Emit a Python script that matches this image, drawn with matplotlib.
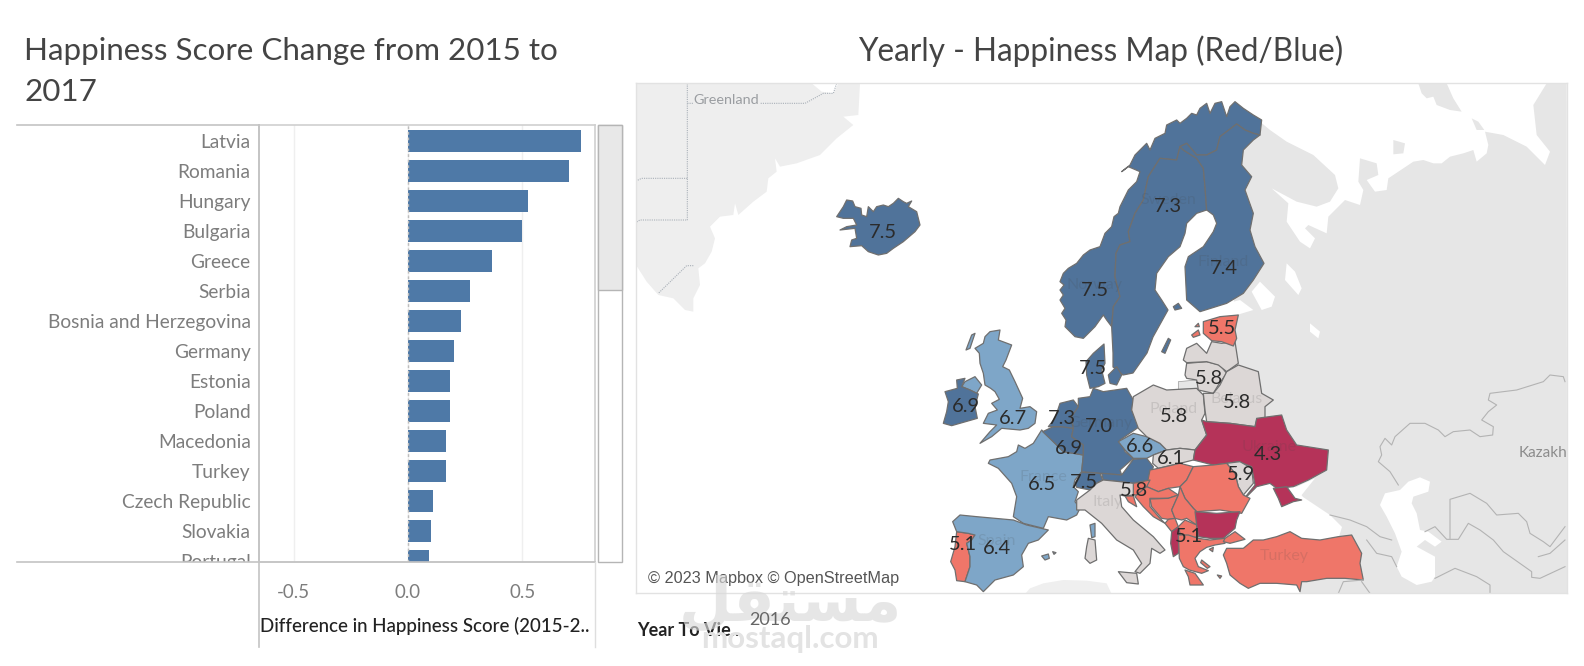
import matplotlib
matplotlib.use("Agg")
import matplotlib.pyplot as plt
from matplotlib.patches import Polygon, Rectangle
from matplotlib.transforms import Bbox
import numpy as np

W, H = 1584, 666

# bar chart values
bar_countries = ["Latvia", "Romania", "Hungary", "Bulgaria", "Greece", "Serbia", "Bosnia and Herzegovina",
                 "Germany", "Estonia", "Poland", "Macedonia", "Turkey", "Czech Republic", "Slovakia", "Portugal"]
bar_diffs = [0.757, 0.703, 0.527, 0.50, 0.368, 0.271, 0.232, 0.20, 0.183, 0.183, 0.165, 0.165, 0.108, 0.10, 0.094]
bar_ticks = [-0.5, 0.0, 0.5]

# outline sheets, origin of each sheet in map pixels (outlines are stored at 3 units per pixel)
GREEN = (630, 75)
NORD = (1040, 100)
RUS = (1220, 75)
CENT = (920, 310)
ASIA = (1330, 340)
IBER = (930, 460)
BALK = (1130, 460)

greenland = [(18, 25), (545, 25), (575, 50), (610, 55), (625, 25), (690, 25), (685, 120), (640, 125), (670, 150),
             (620, 190), (570, 240), (500, 265), (450, 275), (435, 250), (440, 290), (415, 310), (410, 350),
             (370, 380), (325, 420), (315, 385), (310, 420), (270, 425), (240, 455), (255, 490), (245, 530),
             (225, 565), (205, 580), (210, 630), (190, 670), (190, 710), (165, 705), (130, 670), (85, 660),
             (50, 620), (18, 570)]
greenland_borders = [[(172, 25), (172, 435), (30, 435), (18, 442)],
                     [(172, 310), (35, 310), (18, 318)],
                     [(172, 85), (525, 85), (580, 55), (610, 55), (620, 25)],
                     [(190, 572), (170, 572), (85, 655)]]

eurasia_coast = [(85, 130), (120, 140), (150, 165), (200, 200), (280, 240), (345, 300), (355, 340), (330, 380),
                 (290, 395), (230, 380), (155, 340), (205, 385), (200, 440), (240, 500), (270, 520), (285, 490),
                 (255, 460), (265, 450), (320, 475), (325, 425), (375, 375), (420, 390), (430, 345), (415, 320),
                 (420, 250), (470, 265), (475, 300), (440, 315), (465, 350), (500, 345), (505, 310), (580, 260),
                 (610, 255), (640, 265), (665, 265), (690, 245), (730, 235), (760, 225), (770, 260), (800, 235),
                 (805, 210), (795, 170), (850, 180), (920, 215), (975, 270), (990, 230), (950, 180), (940, 90),
                 (980, 25), (1040, 25)]
eurasia_inland = [(1567, 593), (1300, 593), (1300, 575), (1338, 540), (1342, 527), (1330, 515), (1303, 497),
                  (1290, 480), (1270, 440), (1240, 400), (1232, 335), (1232, 320), (1235, 290), (1235, 158)]
novaya_zemlya = [(595, 25), (680, 25), (700, 70), (725, 110), (690, 105), (650, 90), (640, 65), (620, 70), (605, 55)]
kolguev = [(520, 195), (555, 205), (550, 235), (520, 238)]
vaygach = [(755, 130), (775, 140), (793, 165), (770, 165)]
gulf_finland = [(0, 690), (60, 675), (100, 705), (50, 720), (0, 725)]
ladoga = [(95, 650), (120, 620), (165, 665), (155, 695), (125, 705)]
onega = [(200, 565), (225, 590), (245, 640), (235, 660), (195, 615)]
ilmen = [(270, 745), (300, 770), (295, 790), (270, 770)]
caspian = [(235, 425), (270, 412), (300, 425), (295, 455), (250, 470), (245, 490), (260, 520), (270, 570), (295, 575),
           (335, 605), (315, 620), (285, 600), (260, 620), (315, 650), (315, 710), (305, 725), (260, 735), (215, 710),
           (200, 680), (215, 635), (195, 580), (170, 530), (150, 495), (165, 460), (210, 450)]
azov = [(490, 85), (555, 55), (515, 105), (500, 110)]
africa = [(285, 402), (300, 385), (340, 370), (400, 360), (470, 362), (530, 370), (545, 402)]
asia_borders = [[(705, 125), (700, 110), (660, 105), (640, 125), (560, 150), (480, 160), (475, 180), (500, 195),
                 (475, 215), (455, 240), (490, 260), (488, 285), (450, 290), (420, 270), (370, 275), (345, 290),
                 (325, 270), (285, 250), (240, 250), (195, 290), (185, 315), (165, 295), (150, 320), (155, 345),
                 (145, 365), (180, 395), (205, 435)],
                [(360, 595), (360, 478), (420, 460), (470, 490), (500, 525), (565, 520), (590, 545), (600, 580),
                 (640, 605), (660, 620), (705, 560)],
                [(285, 575), (315, 560), (350, 598), (385, 598), (415, 550), (450, 570), (490, 600), (520, 635),
                 (605, 695), (605, 712), (630, 715), (705, 680)],
                [(315, 715), (375, 685), (440, 710), (480, 735), (480, 760)],
                [(0, 525), (60, 540), (110, 560), (150, 590), (185, 600)],
                [(110, 600), (140, 640), (185, 650), (200, 680)],
                [(95, 725), (120, 760)],
                [(625, 650), (660, 640), (705, 600)],
                [(25, 760), (40, 725), (100, 720)]]

iceland = [(620, 425), (640, 395), (650, 375), (668, 378), (675, 395), (693, 400), (695, 420), (710, 425), (715, 395),
           (730, 410), (740, 395), (760, 390), (775, 395), (790, 385), (805, 370), (820, 380), (830, 385), (845, 378),
           (835, 395), (860, 410), (870, 450), (855, 470), (820, 500), (790, 520), (770, 535), (745, 540), (715, 530),
           (695, 512), (660, 515), (665, 495), (680, 490), (675, 460), (630, 465), (650, 455), (680, 450), (670, 430),
           (640, 430)]

# shared Scandinavian borders
se_no_border = [(215, 680), (220, 620), (240, 590), (225, 530), (228, 460), (240, 435), (270, 425), (265, 395),
                (285, 340), (310, 300), (325, 230), (360, 175), (410, 180), (420, 140)]
fi_no_border = [(420, 140), (440, 130), (470, 165), (500, 165), (530, 150), (540, 110), (590, 72), (615, 90),
                (640, 100), (660, 105)]
fi_se_border = [(420, 140), (430, 150), (470, 175), (490, 205), (495, 260), (500, 330)]
norway_coast = [(660, 105), (665, 60), (640, 45), (610, 25), (585, 5), (570, 20), (560, 50), (545, 5), (525, 10),
                (510, 40), (500, 10), (480, 25), (470, 45), (455, 40), (440, 55), (420, 70), (410, 60), (380, 75),
                (375, 100), (345, 115), (330, 150), (320, 130), (300, 150), (285, 165), (270, 195), (245, 215),
                (265, 200), (300, 215), (290, 245), (265, 270), (250, 300), (240, 320), (235, 340), (222, 350),
                (215, 380), (195, 400), (180, 440), (150, 450), (130, 465), (110, 490), (85, 505), (70, 520), (60, 545),
                (72, 555), (60, 570), (70, 585), (60, 600), (75, 625), (65, 640), (78, 660), (75, 680), (105, 710),
                (130, 715), (165, 680), (190, 645), (200, 660)]
norway = norway_coast + se_no_border + fi_no_border[1:]
sweden = se_no_border[::-1] + [(219, 759), (219, 801), (249, 825), (279, 819), (321, 759), (339, 711), (384, 630),
                               (365, 600), (345, 570), (350, 520), (385, 470), (420, 440), (435, 400), (440, 370),
                               (470, 340)] + fi_se_border[::-1]
finland = fi_no_border + [(640, 120), (610, 150), (605, 195), (635, 230), (615, 270), (640, 340), (630, 390),
                          (645, 440), (672, 490), (640, 540), (610, 580), (560, 610), (480, 635), (440, 600),
                          (435, 500), (445, 470), (490, 440), (520, 395), (530, 370), (520, 345)] + fi_se_border[::-1]
aland = [(400, 620), (415, 610), (425, 625), (405, 630)]
gotland = [(725, 125), (745, 85), (752, 90), (735, 130)]

uk = [(210, 65), (240, 60), (235, 90), (275, 105), (258, 150), (248, 170), (268, 180), (285, 215), (308, 265),
      (300, 295), (330, 290), (350, 305), (345, 340), (325, 355), (300, 360), (245, 355), (215, 380), (180, 400),
      (210, 365), (230, 345), (190, 340), (205, 310), (232, 300), (215, 280), (238, 268), (225, 245), (212, 235),
      (195, 225), (190, 190), (180, 160), (178, 130), (165, 115), (190, 100), (195, 80)]
hebrides = [(138, 120), (155, 75), (165, 70), (150, 115)]
n_ireland = [(135, 215), (165, 200), (185, 225), (170, 250), (150, 240), (125, 230)]
ireland = [(75, 245), (112, 235), (110, 210), (135, 205), (125, 230), (150, 240), (175, 252), (165, 290), (172, 325),
           (130, 337), (95, 347), (70, 340), (80, 305), (85, 275)]
france = [(365, 360), (405, 400), (430, 425), (490, 435), (485, 485), (465, 510), (460, 530), (475, 545), (465, 575),
          (480, 595), (470, 615), (440, 630), (385, 620), (370, 655), (310, 640), (280, 620), (290, 560), (275, 520),
          (235, 475), (205, 460), (210, 450), (265, 440), (290, 425), (295, 405), (315, 415), (340, 400)]
corsica = [(510, 645), (525, 640), (525, 680), (515, 683)]
belgium = [(368, 365), (400, 350), (430, 350), (460, 355), (455, 380), (490, 405), (490, 435), (430, 425), (405, 400)]
netherlands = [(385, 350), (405, 325), (420, 280), (460, 270), (475, 290), (455, 320), (460, 355), (425, 350)]
germany = [(475, 265), (510, 260), (520, 235), (550, 245), (585, 240), (620, 235), (640, 270), (635, 300), (658, 350),
           (600, 390), (615, 425), (640, 445), (600, 480), (605, 495), (540, 490), (485, 485), (490, 435), (490, 405),
           (455, 380), (460, 355), (455, 320), (475, 290)]
denmark = [(552, 102), (555, 160), (545, 180), (555, 220), (535, 230), (510, 235), (500, 195), (498, 155), (520, 130)]
zealand = [(565, 195), (590, 170), (605, 195), (590, 225), (570, 220)]
switzerland = [(465, 520), (485, 487), (540, 490), (548, 510), (530, 520), (510, 540), (470, 532)]
austria = [(545, 490), (605, 495), (640, 448), (680, 445), (700, 470), (690, 510), (640, 520), (600, 515), (550, 510)]
czechia = [(595, 395), (640, 370), (680, 380), (720, 400), (740, 420), (700, 435), (680, 445), (640, 445), (615, 420)]
poland = [(640, 260), (700, 225), (740, 240), (830, 235), (850, 255), (855, 310), (845, 330), (860, 375), (825, 420),
          (780, 415), (740, 420), (720, 400), (680, 380), (655, 355), (635, 300)]
kaliningrad = [(775, 215), (830, 210), (835, 236), (775, 238)]
slovakia = [(700, 435), (740, 420), (780, 415), (825, 420), (820, 450), (780, 460), (715, 475), (698, 460)]
lithuania = [(795, 195), (800, 160), (860, 155), (900, 165), (920, 190), (895, 225), (880, 250), (835, 240), (830, 210),
             (800, 205)]
latvia = [(790, 150), (800, 115), (830, 100), (860, 130), (875, 95), (905, 100), (945, 95), (955, 160), (920, 185),
          (895, 165), (860, 155), (800, 158)]
estonia = [(850, 35), (900, 20), (955, 15), (945, 60), (950, 85), (940, 108), (905, 95), (875, 92), (850, 70)]
saaremaa = [(815, 75), (835, 60), (840, 75), (820, 82)]
hiiumaa = [(825, 50), (835, 40), (838, 50)]
belarus = [(880, 250), (900, 225), (920, 185), (955, 165), (1015, 185), (1025, 250), (1060, 270), (1035, 290),
           (1035, 325), (1010, 330), (1005, 350), (930, 340), (860, 335), (855, 300), (850, 250)]
ukraine = [(860, 335), (930, 340), (1005, 350), (1010, 325), (1085, 315), (1100, 360), (1130, 405), (1225, 420),
           (1220, 480), (1165, 510), (1120, 530), (1070, 535), (1050, 520), (1010, 530), (965, 575), (1005, 525),
           (995, 470), (955, 455), (920, 460), (880, 465), (820, 450), (825, 420), (860, 375), (845, 330)]
crimea = [(1060, 535), (1100, 530), (1125, 565), (1145, 570), (1120, 575), (1085, 590), (1075, 565)]
moldova = [(920, 460), (960, 455), (995, 475), (1000, 520), (970, 555), (955, 530), (945, 490)]
hungary = [(690, 480), (715, 475), (780, 460), (820, 470), (800, 510), (780, 530), (745, 535), (715, 545), (680, 530)]
romania = [(820, 470), (880, 465), (920, 460), (945, 490), (955, 530), (970, 555), (990, 565), (965, 610), (900, 600),
           (830, 605), (820, 595), (795, 565), (780, 530), (800, 510)]
slovenia = [(640, 520), (690, 510), (680, 530), (650, 555), (640, 555)]
istria = [(615, 558), (640, 558), (650, 590), (625, 575)]
croatia = [(650, 555), (680, 530), (715, 545), (745, 535), (775, 555), (745, 565), (690, 565), (690, 590), (720, 625),
           (735, 640), (700, 620), (670, 590), (645, 560)]
bosnia = [(690, 567), (745, 565), (775, 555), (755, 600), (765, 625), (745, 628), (725, 625), (695, 590)]
serbia = [(780, 530), (795, 565), (820, 595), (830, 605), (830, 645), (815, 635), (800, 625), (785, 630), (765, 625),
          (755, 600), (775, 555)]
montenegro = [(735, 640), (745, 628), (765, 625), (775, 650), (755, 665)]
albania = [(755, 665), (775, 650), (785, 690), (775, 730), (760, 740), (752, 700)]
macedonia = [(775, 650), (795, 630), (830, 645), (835, 680), (785, 690)]
bulgaria = [(825, 605), (890, 610), (960, 605), (950, 630), (945, 655), (910, 685), (870, 685), (835, 680), (830, 645)]
greece = [(145, 225), (175, 225), (205, 235), (240, 240), (285, 235), (285, 250), (255, 255), (230, 262), (210, 275),
          (195, 295), (205, 320), (235, 332), (215, 340), (178, 330), (160, 320), (148, 295)]
peloponnese = [(165, 330), (195, 340), (220, 375), (200, 375), (180, 375), (175, 350)]
lesbos = [(238, 268), (250, 262), (248, 275)]
evia = [(215, 300), (240, 320), (232, 325), (212, 308)]
crete_bit = [(262, 345), (275, 348), (270, 355)]
turkey_thrace = [(285, 235), (315, 215), (345, 238), (300, 250), (280, 245)]
turkey = [(290, 265), (340, 265), (370, 240), (400, 240), (440, 230), (480, 215), (515, 235), (570, 240), (625, 230),
          (665, 225), (695, 280), (690, 310), (700, 360), (645, 355), (590, 355), (530, 365), (515, 365), (510, 395),
          (500, 375), (440, 370), (390, 370), (355, 385), (330, 370), (300, 345), (290, 310), (280, 285)]
portugal = [(80, 215), (115, 220), (135, 225), (125, 240), (110, 250), (120, 290), (120, 320), (105, 365), (80, 362),
            (75, 330), (62, 305), (75, 260)]
spain = [(68, 185), (90, 165), (140, 170), (250, 180), (290, 195), (355, 210), (325, 240), (295, 250), (275, 285),
         (280, 320), (250, 345), (195, 360), (160, 395), (140, 375), (105, 365), (120, 320), (120, 290), (110, 250),
         (125, 240), (135, 225), (115, 220), (80, 215)]
mallorca = [(335, 288), (355, 282), (358, 295), (345, 300)]
menorca = [(368, 275), (378, 278), (372, 283)]
italy = [(470, 570), (510, 540), (530, 520), (550, 510), (600, 515), (640, 520), (640, 555), (615, 558), (600, 555),
         (605, 590), (640, 630), (700, 680), (735, 720), (720, 730), (695, 715), (690, 760), (660, 790), (645, 785),
         (665, 760), (640, 720), (590, 690), (545, 640), (495, 600), (470, 600)]
sicily = [(595, 785), (650, 790), (655, 822), (620, 818)]
sardinia = [(505, 685), (525, 690), (530, 750), (510, 760), (495, 745), (500, 710)]

# score of each drawn country, with the sheet its outline sits on
map_shapes = [(iceland, GREEN, 7.5), (norway, NORD, 7.5), (sweden, NORD, 7.3), (gotland, CENT, 7.3),
              (finland, NORD, 7.4), (aland, NORD, 7.4), (uk, CENT, 6.7), (hebrides, CENT, 6.7), (n_ireland, CENT, 6.7),
              (ireland, CENT, 6.9), (france, CENT, 6.5), (corsica, CENT, 6.5), (belgium, CENT, 6.9),
              (netherlands, CENT, 7.3), (germany, CENT, 7.0), (denmark, CENT, 7.5), (zealand, CENT, 7.5),
              (switzerland, CENT, 7.5), (austria, CENT, 7.1), (czechia, CENT, 6.6), (poland, CENT, 5.8),
              (slovakia, CENT, 6.1), (lithuania, CENT, 5.8), (latvia, CENT, 5.8), (estonia, CENT, 5.5),
              (saaremaa, CENT, 5.5), (hiiumaa, CENT, 5.5), (belarus, CENT, 5.8), (ukraine, CENT, 4.3),
              (crimea, CENT, 4.3), (moldova, CENT, 5.9), (hungary, CENT, 5.3), (romania, CENT, 5.5),
              (slovenia, CENT, 5.6), (istria, CENT, 5.6), (croatia, CENT, 5.3), (bosnia, CENT, 5.2), (serbia, CENT, 5.2),
              (montenegro, CENT, 5.2), (albania, CENT, 4.7), (macedonia, CENT, 5.1), (bulgaria, CENT, 4.2),
              (greece, BALK, 5.1), (peloponnese, BALK, 5.1), (lesbos, BALK, 5.1), (evia, BALK, 5.1),
              (crete_bit, BALK, 5.1), (turkey_thrace, BALK, 5.5), (turkey, BALK, 5.5), (portugal, IBER, 5.1),
              (spain, IBER, 6.4), (mallorca, IBER, 6.4), (menorca, IBER, 6.4), (italy, CENT, 5.8), (sicily, CENT, 5.8),
              (sardinia, CENT, 5.8)]

# value labels placed on the map
label_values = [7.5, 7.3, 7.4, 7.5, 5.5, 7.5, 5.8, 5.8, 5.8, 7.3, 7.0, 6.9, 6.7, 6.9, 6.6, 6.1, 4.3, 5.9, 6.5, 7.5,
                5.8, 5.1, 5.1, 6.4]
label_x = [883, 1168, 1224, 1095, 1222, 1093, 1209, 1237, 1174, 1062, 1099, 966, 1013, 1069, 1140, 1171, 1268, 1241,
           1042, 1084, 1134, 1189, 963, 997]
label_y = [232, 206, 268, 290, 329, 368, 379, 403, 416, 419, 427, 406, 418, 448, 447, 458, 454, 474, 484, 482, 491,
           537, 544, 548]

# basemap names under the value labels
place_names = ["Sweden", "Finland", "Norway", "Germany", "France", "Spain", "Italy", "Poland", "Belarus", "Ukraine",
               "Turkey"]
place_x = [1168, 1223, 1094, 1100, 1043, 997, 1108, 1174, 1237, 1269, 1284]
place_y = [200, 262, 285, 423, 477, 541, 502, 409, 399, 447, 556]


def sheet(pts, origin):
    return np.array(pts, float) / 3 + origin


def score_colour(score):
    if score >= 6.85:
        return "#50739a"
    if score >= 6.3:
        return "#7ea6c8"
    if score >= 5.75:
        return "#dcd7d6"
    if score >= 5.0:
        return "#ef7669"
    return "#b53359"


plt.rcParams["font.family"] = ["Lato", "DejaVu Sans"]
fig = plt.figure(figsize=(W / 100, H / 100), dpi=100)


def place(x0, y0, x1, y1):
    return fig.add_axes([x0 / W, 1 - y1 / H, (x1 - x0) / W, (y1 - y0) / H])


# bar chart
ax = place(259, 125, 595, 562)
ax.barh(range(len(bar_diffs)), bar_diffs, height=0.75, color="#4e79a7", zorder=3)
ax.set_xlim(-0.651, 0.818)
ax.set_ylim(14.04, -0.53)
ax.set_xticks(bar_ticks)
ax.set_xticklabels(["%.1f" % t for t in bar_ticks], fontsize=13.5, color="#7d7d7d")
ax.set_yticks(range(len(bar_countries)))
ax.set_yticklabels(bar_countries, fontsize=13.8, color="#7d7d7d")
ax.tick_params(length=0, pad=6)
ax.tick_params(axis="x", pad=16)
ax.grid(axis="x", color="#efefef", lw=1, zorder=0)
ax.axvline(0, color="#bdbdbd", lw=1, ls=(0, (2, 2)), zorder=4)
for s in ax.spines.values():
    s.set_color("#cfcfcf")
    s.set_linewidth(1.2)
ax.spines["left"].set_color("#c4c4c4")
# the last row is cut off at the bottom of the pane
clip = Bbox([[0, H - 562], [W, H]])
for lab in ax.get_yticklabels():
    lab.set_clip_box(clip)
    lab.set_clip_on(True)

# map
m = place(636, 83, 1567, 593)
m.set_xlim(636, 1567)
m.set_ylim(593, 83)
m.set_xticks([])
m.set_yticks([])
for s in m.spines.values():
    s.set_color("#e2e2e2")
    s.set_linewidth(1)

m.add_patch(Polygon(sheet(greenland, GREEN), fc="#eeeeee", ec="none"))
for line in greenland_borders:
    pts = sheet(line, GREEN)
    m.plot(pts[:, 0], pts[:, 1], color="#a9b0b8", lw=0.8, ls=(0, (1, 1)))

land = np.vstack([sheet(eurasia_coast, RUS), np.array(eurasia_inland, float)])
m.add_patch(Polygon(land, fc="#e6e6e6", ec="none"))
for shape in [novaya_zemlya, kolguev, vaygach]:
    m.add_patch(Polygon(sheet(shape, RUS), fc="#e6e6e6", ec="none"))
m.add_patch(Polygon(sheet(africa, IBER), fc="#efefef", ec="none"))
m.add_patch(Polygon(sheet(kaliningrad, CENT), fc="#e6e6e6", ec="#9a9a9a", lw=0.5))
for shape in [gulf_finland, ladoga, onega, ilmen]:
    m.add_patch(Polygon(sheet(shape, RUS), fc="white", ec="none"))
m.add_patch(Polygon(sheet(caspian, ASIA), fc="white", ec="none"))
m.add_patch(Polygon(sheet(azov, BALK), fc="white", ec="none"))
for line in asia_borders:
    pts = sheet(line, ASIA)
    m.plot(pts[:, 0], pts[:, 1], color="#b3b3b3", lw=0.8)

for outline, origin, score in map_shapes:
    m.add_patch(Polygon(sheet(outline, origin), fc=score_colour(score), ec="#6f6f6f", lw=0.9, joinstyle="round"))

for name, x, y in zip(place_names, place_x, place_y):
    m.text(x, y, name, color="#444444", alpha=0.14, fontsize=11.5, ha="center", va="center")
for value, x, y in zip(label_values, label_x, label_y):
    m.text(x, y, "%.1f" % value, color="#2b2b2b", fontsize=14.5, ha="center", va="center")

m.text(759, 100, "Greenland", color="#9a9da1", fontsize=10.4, ha="right", va="center",
       bbox=dict(fc="#eeeeee", ec="none", pad=0.5))
m.text(1567, 453, "Kazakh", color="#8c8c8c", fontsize=11, ha="right", va="center")
m.add_patch(Rectangle((642, 566), 262, 23, fc="white", alpha=0.75, ec="none"))
m.text(648, 578, "\u00a9 2023 Mapbox \u00a9 OpenStreetMap", color="#555555", fontsize=11.7, va="center",
       family="Liberation Sans")

# page furniture drawn in pixel units
over = fig.add_axes([0, 0, 1, 1], zorder=10)
over.set_xlim(0, W)
over.set_ylim(H, 0)
over.axis("off")
over.patch.set_alpha(0)

over.plot([17, 259], [125, 125], color="#c4c4c4", lw=1.2)
over.plot([17, 595], [562, 562], color="#c4c4c4", lw=1.2)
over.plot([259, 259], [125, 647], color="#c4c4c4", lw=1.2)
over.plot([595, 595], [562, 647], color="#dedede", lw=1)
over.add_patch(Rectangle((598, 125), 24, 437, fc="white", ec="#b5b5b5", lw=1))
over.add_patch(Rectangle((598, 125), 24, 165, fc="#e8e8e8", ec="#b5b5b5", lw=1))

over.text(24, 51, "Happiness Score Change from 2015 to", fontsize=22.6, color="#444444", va="center")
over.text(24, 92, "2017", fontsize=22.6, color="#444444", va="center")
over.text(1101, 51, "Yearly - Happiness Map (Red/Blue)", fontsize=22.7, color="#444444", ha="center", va="center")
over.text(260, 626, "Difference in Happiness Score (2015-2..", fontsize=13.5, color="#222222", weight="medium", va="center")
over.text(637, 630, "Year To Vie..", fontsize=13, color="#222222", weight="bold", va="center")

# site mark
over.text(790, 604, "\ufede\ufed8\ufe98\ufeb4\ufee3", family="DejaVu Sans", weight="bold", fontsize=44, color="#d9d9d9",
          alpha=0.65, ha="center", va="center")
over.text(790, 639, "mostaql.com", fontsize=22.5, weight="bold", color="#e3e3e3", ha="center", va="center")
over.text(770, 620, "2016", fontsize=13, color="#666666", ha="center", va="center")

fig.savefig("out.png", dpi=100)
